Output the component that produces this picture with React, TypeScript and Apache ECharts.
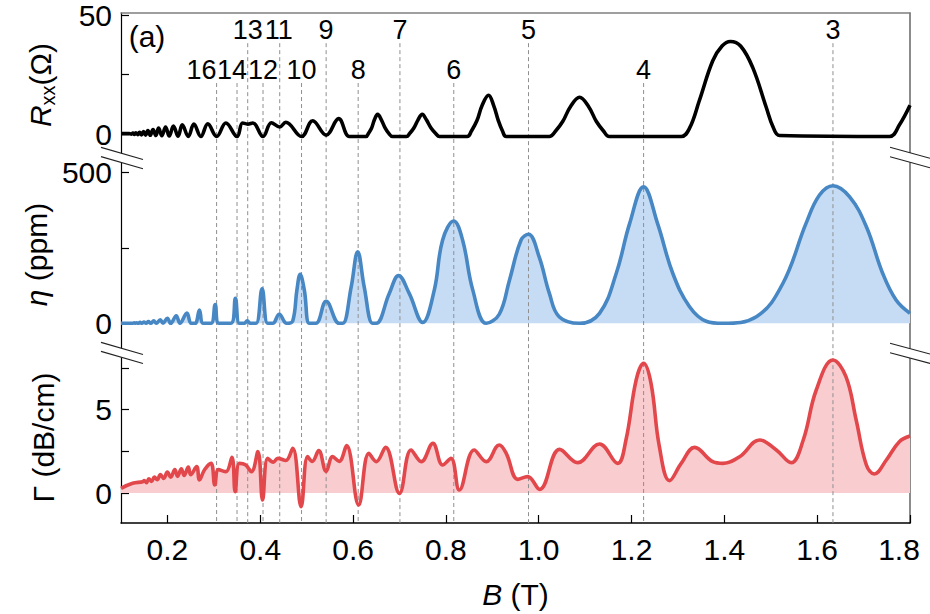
import React, { useEffect, useRef } from 'react';
import * as echarts from 'echarts';

const FONT = '"Liberation Sans", Arial, Helvetica, sans-serif';

// ---- axis ticks / labels ----
const X_TICKS = [0.2, 0.4, 0.6, 0.8, 1.0, 1.2, 1.4, 1.6, 1.8];
const RXX_TICKS = [0, 25, 50];
const RXX_LABELS = [0, 50];
const ETA_TICKS = [0, 250, 500];
const ETA_LABELS = [0, 500];
const GAMMA_TICKS = [0, 2.5, 5, 7.5];
const GAMMA_LABELS = [0, 5];

// ---- filling factors (dashed guides) ----
const NU_LABELS = ['16', '14', '13', '12', '11', '10', '9', '8', '7', '6', '5', '4', '3'];
const NU_B = [0.306, 0.350, 0.373, 0.406, 0.442, 0.489, 0.542, 0.611, 0.701, 0.817, 0.978, 1.226, 1.634];
const NU_ROW = ['lower', 'lower', 'upper', 'lower', 'upper', 'lower', 'upper', 'lower', 'upper', 'lower', 'upper', 'lower', 'upper'];
// horizontal nudges of the crowded labels (pixels)
const NU_LABEL_DX = [-15, -5, 0, 0, -1, 0, 0, 0, 0, 0, 0, 0, 0];

// ---- Rxx (Ohm) vs B (T) ----
const RXX_B = [
  0.100, 0.118, 0.1225, 0.1256, 0.129, 0.132, 0.136, 0.140, 0.144, 0.1485, 0.153, 0.158, 0.163, 0.169,
  0.175, 0.181, 0.188, 0.196, 0.204, 0.213, 0.223, 0.232, 0.245, 0.257, 0.272, 0.287, 0.306, 0.326,
  0.350, 0.362, 0.373, 0.384, 0.406, 0.424, 0.442, 0.455, 0.489, 0.513, 0.542, 0.569, 0.592, 0.611,
  0.628, 0.633, 0.640, 0.646, 0.653, 0.661, 0.669, 0.677, 0.685, 0.715, 0.722, 0.731, 0.740, 0.749,
  0.758, 0.768, 0.778, 0.786, 0.846, 0.855, 0.867, 0.878, 0.892, 0.903, 0.913, 0.922, 0.930, 1.023,
  1.036, 1.052, 1.068, 1.088, 1.108, 1.124, 1.140, 1.152, 1.307, 1.325, 1.346, 1.375, 1.395, 1.413,
  1.435, 1.461, 1.490, 1.505, 1.519, 1.756, 1.777, 1.800,
];
const RXX = [
  0.2, 0.2, 0.0, 0.4, -0.1, 0.6, -0.2, 0.8, -0.3, 1.1, -0.4, 1.5, -0.5, 1.9,
  -0.6, 2.5, -0.7, 3.0, -0.8, 3.4, -0.9, 3.9, -1.0, 4.2, -1.0, 4.3, -1.0, 4.7,
  -1.0, 4.7, 4.2, 4.7, -1.0, 4.8, 3.0, 5.0, -1.0, 5.6, -0.4, 6.5, -1.0, -1.0,
  -1.0, 0.3, 2.6, 6.0, 8.3, 6.0, 2.6, 0.3, -1.0, -1.0, 0.3, 2.6, 6.0, 8.3,
  6.0, 2.6, 0.3, -1.0, -1.0, 1.3, 5.7, 12.0, 16.3, 12.0, 5.7, 1.3, -1.0, -1.0,
  1.2, 5.4, 11.4, 15.5, 11.4, 5.4, 1.2, -1.0, -1.0, 2.5, 14.0, 30.8, 37.0, 38.9,
  37.0, 28.0, 11.4, 3.0, -0.6, -1.0, 3.8, 12.1,
];

// ---- eta (ppm) vs B (T) ----
const ETA_B = [
  0.100, 0.124, 0.1285, 0.131, 0.1335, 0.137, 0.141, 0.145, 0.1495, 0.154, 0.159, 0.164, 0.1705, 0.176,
  0.1845, 0.1905, 0.200, 0.207, 0.219, 0.227, 0.242, 0.251, 0.260, 0.269, 0.277, 0.294, 0.303, 0.311,
  0.337, 0.3465, 0.355, 0.366, 0.372, 0.379, 0.391, 0.404, 0.416, 0.427, 0.441, 0.457, 0.470, 0.479,
  0.486, 0.495, 0.506, 0.520, 0.542, 0.570, 0.578, 0.596, 0.610, 0.624, 0.642, 0.650, 0.678, 0.698,
  0.721, 0.750, 0.775, 0.793, 0.817, 0.836, 0.858, 0.887, 0.915, 0.937, 0.962, 0.978, 1.001, 1.023,
  1.044, 1.088, 1.131, 1.167, 1.196, 1.226, 1.256, 1.289, 1.325, 1.361, 1.397, 1.469, 1.526, 1.576,
  1.605, 1.634, 1.670, 1.706, 1.741, 1.770, 1.800,
];
const ETA = [
  0, 0, 1.5, 0, 2, 0, 3, 0, 4, 0, 5.5, 0, 8, 0,
  12, 0, 17, 0, 25, 0, 34, 0, 0, 44, 0, 0, 62, 0,
  0, 83, 0, 0, 8, 0, 0, 114, 0, 0, 30, 0, 8, 110,
  162, 110, 0, 0, 73, 0, 0, 121, 237, 121, 0, 0, 99, 158,
  99, 3, 110, 276, 339, 276, 110, 0, 30, 143, 276, 295, 220, 99,
  22, 0, 33, 165, 331, 452, 331, 165, 55, 7, 0, 22, 132, 331,
  425, 456, 419, 320, 166, 77, 33,
];

// ---- Gamma (dB/cm) vs B (T) ----
const GAMMA_B = [
  0.100, 0.125, 0.147, 0.150, 0.155, 0.160, 0.166, 0.172, 0.178, 0.185, 0.192, 0.200, 0.207, 0.216,
  0.222, 0.230, 0.236, 0.245, 0.250, 0.263, 0.269, 0.280, 0.294, 0.302, 0.310, 0.326, 0.339, 0.346,
  0.355, 0.368, 0.381, 0.395, 0.405, 0.416, 0.428, 0.438, 0.455, 0.470, 0.488, 0.502, 0.512, 0.526,
  0.542, 0.556, 0.570, 0.586, 0.612, 0.634, 0.650, 0.670, 0.700, 0.725, 0.747, 0.772, 0.793, 0.811,
  0.829, 0.861, 0.887, 0.915, 0.930, 0.955, 0.976, 1.002, 1.045, 1.084, 1.131, 1.170, 1.188, 1.210,
  1.226, 1.242, 1.260, 1.282, 1.307, 1.336, 1.375, 1.397, 1.433, 1.476, 1.512, 1.544, 1.570, 1.598,
  1.634, 1.662, 1.684, 1.706, 1.723, 1.749, 1.777, 1.800,
];
const GAMMA = [
  0.28, 0.58, 0.68, 0.75, 0.62, 0.85, 0.70, 0.95, 0.80, 1.10, 0.88, 1.25, 0.95, 1.40,
  1.00, 1.45, 1.05, 1.55, 1.10, 1.58, 0.78, 1.40, 1.78, 0.48, 1.40, 1.28, 2.14, 0.08,
  1.78, 1.70, 1.28, 2.48, -0.42, 2.08, 1.85, 2.08, 1.95, 2.68, -0.82, 2.18, 1.90, 2.54,
  1.30, 2.18, 1.90, 2.84, -0.72, 2.38, 1.88, 2.74, -0.02, 2.58, 1.88, 2.98, 1.68, 2.08,
  0.18, 2.58, 1.88, 2.88, 2.38, 0.82, 0.98, 0.22, 2.62, 1.82, 2.94, 1.78, 3.18, 6.78,
  7.78, 6.58, 2.78, 0.74, 1.78, 2.74, 1.88, 1.78, 2.18, 3.18, 2.58, 1.82, 3.18, 6.18,
  7.98, 6.98, 4.38, 1.68, 1.14, 1.98, 3.08, 3.42,
];

const pairs = (xs: number[], ys: number[]) => xs.map((x, i) => [x, ys[i]]);

// break-mark geometry: [x1, y1, x2, y2, gap]
const BREAKS = [
  [101, 147.4, 143, 159.5, 9.2],
  [890, 147.3, 930, 158.3, 9.5],
  [101, 342.4, 143, 354.5, 9.0],
  [890, 343.3, 930, 354.0, 9.4],
];
const AXIS_X = [121, 910];

function breakGraphics() {
  const els: any[] = [];
  BREAKS.forEach((b) => {
    const [x1, y1, x2, y2, gap] = b;
    const slope = (y2 - y1) / (x2 - x1);
    const ax = x1 < 500 ? AXIS_X[0] : AXIS_X[1];
    const xa = ax - 6, xb = ax + 6;
    const ya = y1 + slope * (xa - x1);
    const yb = y1 + slope * (xb - x1);
    els.push({
      type: 'polygon', z: 100,
      shape: { points: [[xa, ya], [xb, yb], [xb, yb + gap], [xa, ya + gap]] },
      style: { fill: '#fff', stroke: null },
    });
    els.push({
      type: 'line', z: 101,
      shape: { x1, y1, x2, y2 },
      style: { stroke: '#222', lineWidth: 1.1 },
    });
    els.push({
      type: 'line', z: 101,
      shape: { x1, y1: y1 + gap, x2, y2: y2 + gap },
      style: { stroke: '#222', lineWidth: 1.1 },
    });
  });
  els.push({
    type: 'text', z: 101, x: 147, y: 36,
    style: { text: '(a)', fontSize: 30, fontFamily: FONT, fill: '#000', align: 'center', verticalAlign: 'middle' },
  });
  return els;
}

const hidden = { show: false };

function leftY(gridIndex: number, min: number, max: number, ticks: number[], labels: number[], name: string, rich: any) {
  return {
    type: 'value', gridIndex, min, max, position: 'left',
    splitLine: hidden,
    axisLine: { show: true, lineStyle: { color: '#000', width: 1.2 } },
    axisTick: { show: true, inside: true, length: 8, customValues: ticks, lineStyle: { color: '#000', width: 1.2 } },
    axisLabel: { show: true, customValues: labels, fontSize: 30, fontFamily: FONT, color: '#000', margin: 9 },
    name, nameLocation: 'middle', nameRotate: 90, nameGap: 63,
    nameTextStyle: { fontSize: 30, fontFamily: FONT, color: '#000', rich },
  };
}

function rightY(gridIndex: number) {
  return {
    type: 'value', gridIndex, position: 'right', min: 0, max: 1,
    splitLine: hidden, axisTick: hidden, axisLabel: hidden,
    axisLine: { show: true, lineStyle: { color: '#7f7f7f', width: 1.8 } },
  };
}

function xHidden(gridIndex: number) {
  return { type: 'value', gridIndex, min: 0.1, max: 1.8, show: false };
}

export default function App() {
  const ref = useRef<HTMLDivElement>(null);
  useEffect(() => {
    if (!ref.current) return;
    const chart = echarts.init(ref.current, null, { renderer: 'svg' });
    const ital = { fontStyle: 'italic', fontSize: 30, fontFamily: FONT, color: '#000' };
    const option: any = {
      animation: false,
      backgroundColor: '#fff',
      grid: [
        { left: 121, right: 20, top: 12, height: 145 },
        { left: 121, right: 20, top: 157, height: 195 },
        { left: 121, right: 20, top: 352, height: 171 },
        { left: 121, right: 20, top: 12, height: 511 },
      ],
      xAxis: [
        xHidden(0),
        xHidden(1),
        {
          type: 'value', gridIndex: 2, min: 0.1, max: 1.8, position: 'bottom',
          splitLine: hidden,
          axisLine: { show: true, onZero: false, lineStyle: { color: '#000', width: 1.5 } },
          axisTick: { show: true, inside: true, length: 8, customValues: X_TICKS, lineStyle: { color: '#000', width: 1.2 } },
          axisLabel: {
            show: true, customValues: X_TICKS, fontSize: 30, fontFamily: FONT, color: '#000', margin: 11,
            formatter: (v: number) => (v > 1.79 ? '{r|' + v.toFixed(1) + '}' : v.toFixed(1)),
            rich: { r: { fontSize: 30, fontFamily: FONT, color: '#000', padding: [0, 22, 0, 0] } },
          },
          name: '{i|B} (T)', nameLocation: 'middle', nameGap: 56,
          nameTextStyle: { fontSize: 30, fontFamily: FONT, color: '#000', rich: { i: ital } },
        },
        xHidden(3),
        {
          type: 'value', gridIndex: 0, min: 0.1, max: 1.8, position: 'top',
          splitLine: hidden, axisTick: hidden, axisLabel: hidden,
          axisLine: { show: true, onZero: false, lineStyle: { color: '#7f7f7f', width: 1.5 } },
        },
      ],
      yAxis: [
        leftY(0, -9.6, 50.8, RXX_TICKS, RXX_LABELS, '{i|R}{s|xx}{n|(Ω)}', {
          i: { ...ital, lineHeight: 36 },
          s: { fontSize: 20, fontFamily: FONT, color: '#000', lineHeight: 16, verticalAlign: 'bottom' },
          n: { fontSize: 30, fontFamily: FONT, color: '#000', lineHeight: 36 },
        }),
        leftY(1, -95, 551, ETA_TICKS, ETA_LABELS, '{i|η} (ppm)', { i: ital }),
        leftY(2, -1.8, 8.46, GAMMA_TICKS, GAMMA_LABELS, 'Γ (dB/cm)', {}),
        { type: 'value', gridIndex: 3, min: 0, max: 1, show: false },
        rightY(0),
        rightY(1),
        rightY(2),
      ],
      series: [
        {
          type: 'line', name: 'eta-area', xAxisIndex: 1, yAxisIndex: 1, data: pairs(ETA_B, ETA),
          showSymbol: false, smooth: 0.4, z: 1, lineStyle: { width: 0 },
          areaStyle: { color: '#c6dcf5', opacity: 1, origin: 0 },
        },
        {
          type: 'line', name: 'gamma-area', xAxisIndex: 2, yAxisIndex: 2, data: pairs(GAMMA_B, GAMMA),
          showSymbol: false, smooth: 0.4, z: 1, lineStyle: { width: 0 },
          areaStyle: { color: '#f9cdd0', opacity: 1, origin: 0 },
        },
        {
          type: 'custom', name: 'nu', xAxisIndex: 3, yAxisIndex: 3, z: 3,
          data: NU_B.map((b, i) => [b, NU_ROW[i] === 'upper' ? 0.939 : 0.861]),
          renderItem: (params: any, api: any) => {
            const b = api.value(0);
            const t = api.value(1);
            const p0 = api.coord([b, t]);
            const p1 = api.coord([b, 0]);
            return {
              type: 'group',
              children: [
                {
                  type: 'line',
                  shape: { x1: p0[0], y1: p0[1], x2: p1[0], y2: p1[1] },
                  style: { stroke: '#8f8f8f', lineWidth: 1, lineDash: [4, 3] },
                },
                {
                  type: 'text', x: p0[0] + NU_LABEL_DX[params.dataIndex], y: p0[1] - 13,
                  style: {
                    text: NU_LABELS[params.dataIndex], fontSize: 27, fontFamily: FONT,
                    fill: '#000', align: 'center', verticalAlign: 'middle',
                  },
                },
              ],
            };
          },
        },
        {
          type: 'line', name: 'Rxx', xAxisIndex: 0, yAxisIndex: 0, data: pairs(RXX_B, RXX),
          showSymbol: false, smooth: 0.4, z: 5, lineStyle: { color: '#000', width: 3.6 },
        },
        {
          type: 'line', name: 'eta', xAxisIndex: 1, yAxisIndex: 1, data: pairs(ETA_B, ETA),
          showSymbol: false, smooth: 0.4, z: 5, lineStyle: { color: '#4787c3', width: 3.6 },
        },
        {
          type: 'line', name: 'gamma', xAxisIndex: 2, yAxisIndex: 2, data: pairs(GAMMA_B, GAMMA),
          showSymbol: false, smooth: 0.4, z: 5, lineStyle: { color: '#e2474b', width: 3.6 },
        },
      ],
      graphic: breakGraphics(),
    };
    chart.setOption(option);
    return () => chart.dispose();
  }, []);
  return <div ref={ref} style={{ position: 'absolute', left: 0, top: 0, width: 930, height: 614 }} />;
}
